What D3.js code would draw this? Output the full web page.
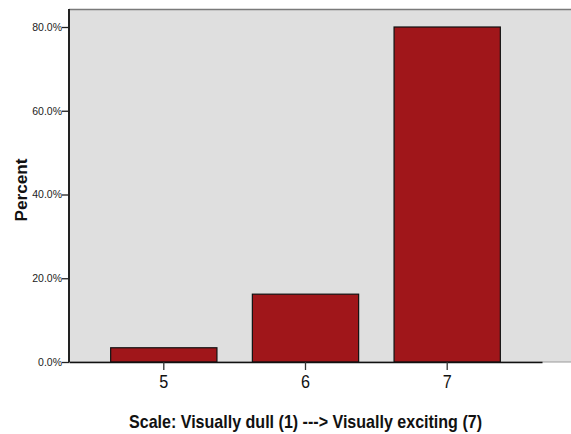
<!DOCTYPE html>
<html><head><meta charset="utf-8">
<script src="https://cdn.jsdelivr.net/npm/d3@7"></script>
<style>body{margin:0;background:#fff}svg{display:block}</style>
</head><body>
<svg id="c" width="571" height="434"></svg>
<script>
const categories = ["5","6","7"];
const percents = [3.4, 16.2, 80.0];
const yTicks = [0, 20, 40, 60, 80];
const xTitle = "Scale: Visually dull (1) ---> Visually exciting (7)";
const yTitle = "Percent";

const svg = d3.select("#c");
const L = 69, R = 571, T = 9, B = 362, AX_R = 542;
const sans = "'Liberation Sans',Arial,sans-serif";

const x = d3.scaleBand().domain(categories).range([L, AX_R]).paddingInner(0.25).paddingOuter(0.294);
const y = d3.scaleLinear().domain([0, 80]).range([B, 27]);

svg.append("rect").attr("x", L).attr("y", T).attr("width", R - L).attr("height", B - T).attr("fill", "#dfdfdf");
svg.append("line").attr("x1", L).attr("x2", R).attr("y1", T + 0.5).attr("y2", T + 0.5).attr("stroke", "#7a7a7a").attr("stroke-width", 1.5);
svg.append("line").attr("x1", L).attr("x2", R).attr("y1", B).attr("y2", B).attr("stroke", "#9a9a9a").attr("stroke-width", 1);

svg.selectAll("rect.bar").data(percents).join("rect").attr("class", "bar")
  .attr("x", (d, i) => x(categories[i]))
  .attr("y", d => y(d))
  .attr("width", x.bandwidth())
  .attr("height", d => B - y(d))
  .attr("fill", "#a0161a").attr("stroke", "#111").attr("stroke-width", 1.2);

// x axis
const xa = svg.append("g").attr("transform", `translate(0,${B})`)
  .call(d3.axisBottom(x).tickSize(8).tickPadding(5).tickSizeOuter(0));
xa.select(".domain").attr("stroke", "#111").attr("stroke-width", 1.3);
xa.selectAll(".tick line").attr("stroke", "#333").attr("stroke-width", 1.3);
xa.selectAll(".tick text").attr("font-family", sans).attr("font-size", 18).attr("fill", "#111")
  .attr("textLength", 9).attr("lengthAdjust", "spacingAndGlyphs");

// y axis
const ya = svg.append("g").attr("transform", `translate(${L},0)`)
  .call(d3.axisLeft(y).tickValues(yTicks).tickFormat(d => d.toFixed(1) + "%").tickSize(7).tickPadding(0).tickSizeOuter(0));
ya.select(".domain").attr("d", `M0,${T}V${B}`).attr("stroke", "#222").attr("stroke-width", 2);
ya.selectAll(".tick line").attr("stroke", "#222").attr("stroke-width", 1.3);
ya.selectAll(".tick text").attr("font-family", sans).attr("font-size", 10.5).attr("fill", "#222");

svg.append("text").attr("x", (L + AX_R) / 2).attr("y", 428).attr("text-anchor", "middle")
  .attr("font-family", sans).attr("font-weight", "bold").attr("font-size", 19).attr("fill", "#111")
  .attr("textLength", 353).attr("lengthAdjust", "spacingAndGlyphs").text(xTitle);
svg.append("text").attr("transform", "translate(27,190) rotate(-90)").attr("text-anchor", "middle")
  .attr("font-family", sans).attr("font-weight", "bold").attr("font-size", 16).attr("fill", "#111")
  .attr("textLength", 63).attr("lengthAdjust", "spacingAndGlyphs").text(yTitle);
</script>
</body></html>
